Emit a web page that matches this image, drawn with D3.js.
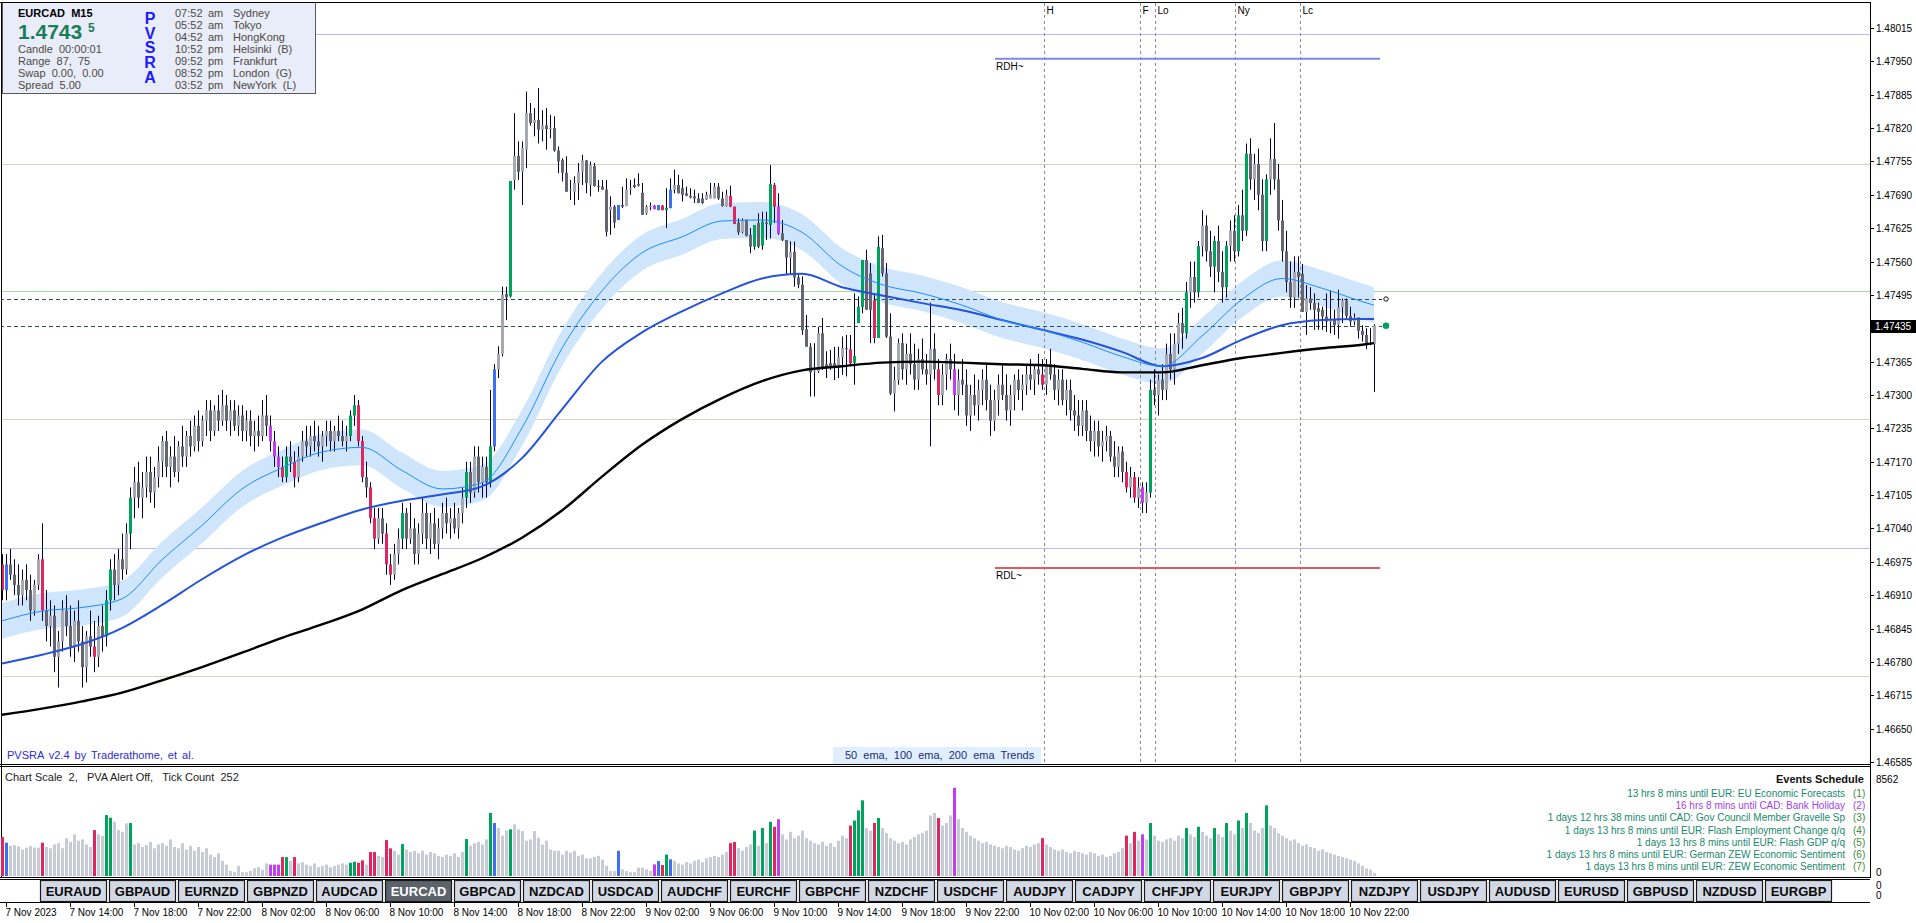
<!DOCTYPE html>
<html><head><meta charset="utf-8">
<script src="https://cdn.jsdelivr.net/npm/d3@7"></script>
<style>
body{margin:0;background:#fff;overflow:hidden}
svg{display:block}
text{font-family:"Liberation Sans",Arial,sans-serif;white-space:pre}
</style></head><body>
<script>
// ---------------- DATA ----------------
const open=[1.4697,1.4692,1.4697,1.4695,1.4693,1.4691,1.4694,1.4692,1.4688,1.4693,
1.4698,1.4688,1.4685,1.4687,1.4679,1.4682,1.4688,1.4685,1.4681,1.4686,
1.4682,1.4677,1.4683,1.4681,1.4679,1.4685,1.4683,1.4690,1.4696,1.4693,
1.4698,1.4696,1.4703,1.4710,1.4713,1.4710,1.4712,1.4715,1.4711,1.4714,
1.4717,1.4721,1.4716,1.4718,1.4715,1.4720,1.4718,1.4722,1.4720,1.4724,
1.4721,1.4725,1.4727,1.4723,1.4727,1.4725,1.4728,1.4725,1.4727,1.4724,
1.4726,1.4723,1.4725,1.4722,1.4723,1.4722,1.4726,1.4724,1.4721,1.4718,
1.4716,1.4714,1.4718,1.4717,1.4714,1.4718,1.4721,1.4720,1.4722,1.4721,
1.4720,1.4722,1.4723,1.4721,1.4723,1.4722,1.4721,1.4722,1.4726,1.4728,
1.4721,1.4714,1.4712,1.4706,1.4702,1.4706,1.4703,1.4697,1.4695,1.4699,
1.4702,1.4707,1.4702,1.4704,1.4699,1.4703,1.4707,1.4702,1.4705,1.4701,
1.4704,1.4707,1.4705,1.4706,1.4704,1.4707,1.4710,1.4715,1.4711,1.4718,
1.4713,1.4716,1.4713,1.4720,1.4735,1.4738,1.47497,1.47492,1.47719,1.47766,
1.47735,1.47778,1.47849,1.47830,1.47836,1.47817,1.47825,1.47818,1.47820,1.47776,
1.47758,1.47733,1.47698,1.47696,1.47713,1.47735,1.47757,1.47709,1.47746,1.47707,
1.47706,1.47700,1.47660,1.47667,1.47641,1.47670,1.47668,1.47700,1.47709,1.47711,
1.47694,1.47654,1.47667,1.47669,1.47660,1.47669,1.47660,1.47664,1.47700,1.47709,
1.47703,1.47693,1.47688,1.47687,1.47683,1.47683,1.47681,1.47683,1.47683,1.47706,
1.47683,1.47668,1.47688,1.47667,1.47636,1.47617,1.47641,1.47612,1.47589,1.47635,
1.47591,1.47636,1.47631,1.47709,1.47667,1.47615,1.47602,1.47567,1.47579,1.47529,
1.47515,1.47428,1.47394,1.47344,1.47346,1.47420,1.47360,1.47362,1.47362,1.47354,
1.47374,1.47391,1.47389,1.47363,1.47440,1.47471,1.47563,1.47537,1.47485,1.47411,
1.47586,1.47537,1.47414,1.47303,1.47329,1.47401,1.47350,1.47380,1.47360,1.47330,
1.47370,1.47350,1.47340,1.47390,1.47350,1.47300,1.47340,1.47370,1.47350,1.47300,
1.47330,1.47320,1.47260,1.47300,1.47280,1.47310,1.47330,1.47290,1.47250,1.47290,
1.47320,1.47300,1.47270,1.47300,1.47330,1.47310,1.47320,1.47340,1.47330,1.47350,
1.47340,1.47320,1.47360,1.47340,1.47310,1.47330,1.47290,1.47310,1.47270,1.47260,
1.47240,1.47270,1.47230,1.47210,1.47230,1.47200,1.47210,1.47220,1.47180,1.47160,
1.47190,1.47150,1.47120,1.47140,1.47100,1.47120,1.47090,1.47110,1.47310,1.47300,
1.47330,1.47310,1.47380,1.47350,1.47400,1.47440,1.47420,1.47500,1.47530,1.47500,
1.47590,1.47630,1.47580,1.47550,1.47600,1.47540,1.47510,1.47590,1.47620,1.47580,
1.47650,1.47620,1.47770,1.47720,1.47750,1.47690,1.47600,1.47720,1.47760,1.47720,
1.47640,1.47580,1.47520,1.47490,1.47540,1.47536,1.47462,1.47488,1.47479,1.47469,
1.47466,1.47453,1.47443,1.47447,1.47437,1.47471,1.47484,1.47454,1.47443,1.47451,
1.47425,1.47417,1.47401,1.47399];
const high=[1.4699,1.4699,1.4700,1.4698,1.4697,1.4696,1.4697,1.4695,1.4694,1.4699,
1.4705,1.4692,1.4690,1.4689,1.4684,1.4690,1.4691,1.4689,1.4688,1.4690,
1.4685,1.4684,1.4688,1.4686,1.4687,1.4689,1.4692,1.4698,1.4699,1.4700,
1.4703,1.4705,1.4712,1.4716,1.4717,1.4715,1.4718,1.4718,1.4716,1.4720,
1.4722,1.4723,1.4720,1.4722,1.4721,1.4724,1.4723,1.4725,1.4726,1.4727,
1.4726,1.4729,1.4729,1.4728,1.4730,1.4731,1.4730,1.4729,1.4729,1.4728,
1.4728,1.4727,1.4727,1.4725,1.4726,1.4729,1.4730,1.4726,1.4723,1.4720,
1.4718,1.4720,1.4721,1.4719,1.4720,1.4723,1.4724,1.4724,1.4725,1.4724,
1.4723,1.4725,1.4725,1.4724,1.4726,1.4725,1.4724,1.4727,1.4730,1.4729,
1.4722,1.4717,1.4713,1.4708,1.4708,1.4708,1.4705,1.4699,1.4701,1.4704,
1.4709,1.4708,1.4709,1.4706,1.4705,1.4710,1.4709,1.4707,1.4708,1.4706,
1.4709,1.4710,1.4708,1.4709,1.4708,1.4712,1.4717,1.4717,1.4720,1.4720,
1.4718,1.4718,1.4731,1.4736,1.47395,1.47511,1.47511,1.47717,1.47849,1.47794,
1.47794,1.47891,1.47869,1.47859,1.47898,1.47855,1.47859,1.47846,1.47843,1.47784,
1.47761,1.47765,1.47719,1.47726,1.47752,1.47768,1.47758,1.47755,1.47752,1.47719,
1.47719,1.47719,1.47687,1.47670,1.47670,1.47706,1.47722,1.47719,1.47722,1.47732,
1.47713,1.47670,1.47675,1.47670,1.47670,1.47670,1.47703,1.47722,1.47739,1.47729,
1.47720,1.47706,1.47703,1.47700,1.47693,1.47693,1.47696,1.47713,1.47713,1.47713,
1.47696,1.47700,1.47708,1.47667,1.47644,1.47644,1.47642,1.47625,1.47631,1.47654,
1.47657,1.47657,1.47748,1.47713,1.47693,1.47641,1.47602,1.47599,1.47599,1.47534,
1.47531,1.47456,1.47401,1.47401,1.47433,1.47450,1.47385,1.47388,1.47394,1.47394,
1.47414,1.47417,1.47417,1.47498,1.47492,1.47563,1.47583,1.47557,1.47498,1.47609,
1.47612,1.47557,1.47459,1.47355,1.47410,1.47420,1.47400,1.47420,1.47400,1.47390,
1.47410,1.47380,1.47480,1.47420,1.47370,1.47360,1.47380,1.47400,1.47380,1.47350,
1.47370,1.47350,1.47320,1.47340,1.47330,1.47350,1.47360,1.47320,1.47310,1.47340,
1.47360,1.47340,1.47320,1.47340,1.47350,1.47340,1.47360,1.47370,1.47360,1.47380,
1.47370,1.47370,1.47390,1.47360,1.47350,1.47350,1.47330,1.47330,1.47300,1.47290,
1.47290,1.47290,1.47260,1.47250,1.47250,1.47230,1.47240,1.47230,1.47210,1.47200,
1.47200,1.47170,1.47160,1.47150,1.47140,1.47130,1.47130,1.47330,1.47350,1.47340,
1.47360,1.47400,1.47420,1.47420,1.47460,1.47470,1.47520,1.47560,1.47560,1.47600,
1.47660,1.47650,1.47620,1.47610,1.47630,1.47580,1.47600,1.47640,1.47650,1.47670,
1.47700,1.47790,1.47800,1.47770,1.47780,1.47720,1.47730,1.47800,1.47830,1.47750,
1.47680,1.47620,1.47560,1.47570,1.47570,1.47555,1.47514,1.47510,1.47498,1.47480,
1.47472,1.47498,1.47503,1.47466,1.47505,1.47488,1.47488,1.47472,1.47459,1.47451,
1.47436,1.47430,1.47430,1.47438];
const low=[1.4690,1.4690,1.4694,1.4691,1.4689,1.4689,1.4690,1.4686,1.4687,1.4692,
1.4686,1.4682,1.4681,1.4676,1.4673,1.4680,1.4683,1.4679,1.4678,1.4680,
1.4673,1.4674,1.4679,1.4676,1.4677,1.4680,1.4681,1.4688,1.4690,1.4691,
1.4694,1.4695,1.4700,1.4706,1.4708,1.4706,1.4710,1.4709,1.4708,1.4712,
1.4714,1.4714,1.4712,1.4714,1.4713,1.4716,1.4716,1.4718,1.4719,1.4719,
1.4720,1.4722,1.4721,1.4722,1.4723,1.4724,1.4723,1.4722,1.4723,1.4722,
1.4721,1.4721,1.4720,1.4719,1.4720,1.4721,1.4722,1.4719,1.4716,1.4714,
1.4713,1.4713,1.4715,1.4712,1.4713,1.4717,1.4718,1.4718,1.4719,1.4718,
1.4717,1.4720,1.4719,1.4719,1.4721,1.4720,1.4719,1.4721,1.4724,1.4720,
1.4713,1.4710,1.4705,1.4700,1.4701,1.4701,1.4695,1.4693,1.4694,1.4697,
1.4700,1.4700,1.4701,1.4697,1.4697,1.4701,1.4700,1.4699,1.4700,1.4698,
1.4702,1.4703,1.4702,1.4703,1.4702,1.4705,1.4708,1.4709,1.4710,1.4711,
1.4710,1.4710,1.4712,1.4719,1.47333,1.47375,1.47446,1.4749,1.47700,1.47719,
1.47670,1.47742,1.47825,1.47804,1.47790,1.47794,1.47778,1.47800,1.47774,1.47732,
1.47716,1.47696,1.47680,1.47670,1.47680,1.47709,1.47693,1.47687,1.47706,1.47696,
1.47700,1.47609,1.47612,1.47625,1.47641,1.47664,1.47668,1.47690,1.47703,1.47706,
1.47651,1.47651,1.47660,1.47662,1.47660,1.47660,1.47625,1.47664,1.47693,1.47693,
1.47677,1.47687,1.47683,1.47674,1.47674,1.47672,1.47680,1.47683,1.47683,1.47680,
1.47667,1.47667,1.47666,1.47633,1.47612,1.47615,1.47609,1.47576,1.47583,1.47586,
1.47583,1.47602,1.47605,1.47635,1.47612,1.47600,1.47534,1.47537,1.47511,1.47508,
1.47417,1.47394,1.47297,1.47297,1.47343,1.47349,1.47333,1.47349,1.47329,1.47333,
1.47339,1.47336,1.47356,1.47320,1.47440,1.47459,1.47466,1.47401,1.47401,1.47411,
1.47531,1.47411,1.47300,1.47268,1.47320,1.47330,1.47320,1.47340,1.47310,1.47310,
1.47340,1.47320,1.47200,1.47330,1.47280,1.47280,1.47310,1.47330,1.47270,1.47260,
1.47300,1.47240,1.47230,1.47260,1.47250,1.47280,1.47270,1.47220,1.47230,1.47260,
1.47290,1.47250,1.47240,1.47270,1.47290,1.47270,1.47300,1.47310,1.47300,1.47320,
1.47310,1.47300,1.47330,1.47290,1.47280,1.47280,1.47260,1.47250,1.47230,1.47220,
1.47220,1.47210,1.47190,1.47180,1.47180,1.47170,1.47190,1.47170,1.47140,1.47140,
1.47130,1.47110,1.47100,1.47090,1.47080,1.47070,1.47070,1.47100,1.47280,1.47260,
1.47290,1.47290,1.47330,1.47320,1.47380,1.47390,1.47410,1.47470,1.47480,1.47490,
1.47570,1.47560,1.47530,1.47500,1.47520,1.47480,1.47490,1.47560,1.47560,1.47570,
1.47600,1.47610,1.47700,1.47680,1.47660,1.47580,1.47580,1.47690,1.47700,1.47620,
1.47560,1.47500,1.47470,1.47470,1.47490,1.47462,1.47417,1.47466,1.47427,1.47427,
1.47427,1.47423,1.47420,1.47417,1.47410,1.47440,1.47449,1.47433,1.47436,1.47410,
1.47404,1.47389,1.47397,1.47306];
const close=[1.4692,1.4697,1.4695,1.4693,1.4691,1.4694,1.4692,1.4688,1.4693,1.4698,
1.4688,1.4685,1.4687,1.4679,1.4682,1.4688,1.4685,1.4681,1.4686,1.4682,
1.4677,1.4683,1.4681,1.4679,1.4685,1.4683,1.4690,1.4696,1.4693,1.4698,
1.4696,1.4703,1.4710,1.4713,1.4710,1.4712,1.4715,1.4711,1.4714,1.4717,
1.4721,1.4716,1.4718,1.4715,1.4720,1.4718,1.4722,1.4720,1.4724,1.4721,
1.4725,1.4727,1.4723,1.4727,1.4725,1.4728,1.4725,1.4727,1.4724,1.4726,
1.4723,1.4725,1.4722,1.4723,1.4722,1.4726,1.4724,1.4721,1.4718,1.4716,
1.4714,1.4718,1.4717,1.4714,1.4718,1.4721,1.4720,1.4722,1.4721,1.4720,
1.4722,1.4723,1.4721,1.4723,1.4722,1.4721,1.4722,1.4726,1.4728,1.4721,
1.4714,1.4712,1.4706,1.4702,1.4706,1.4703,1.4697,1.4695,1.4699,1.4702,
1.4707,1.4702,1.4704,1.4699,1.4703,1.4707,1.4702,1.4705,1.4701,1.4704,
1.4707,1.4705,1.4706,1.4704,1.4707,1.4710,1.4715,1.4711,1.4718,1.4713,
1.4716,1.4713,1.4720,1.4735,1.4738,1.47495,1.4749,1.47717,1.47765,1.47735,
1.47781,1.47849,1.47830,1.47836,1.47817,1.47825,1.47818,1.47820,1.47776,1.47755,
1.47733,1.47696,1.47700,1.47713,1.47735,1.47757,1.47713,1.47748,1.47707,1.47706,
1.47700,1.47618,1.47667,1.47636,1.47670,1.47667,1.47700,1.47703,1.47705,1.47708,
1.47651,1.47667,1.47668,1.47662,1.47670,1.47660,1.47665,1.47700,1.47709,1.47693,
1.47690,1.47688,1.47685,1.47683,1.47674,1.47674,1.47690,1.47690,1.47706,1.47683,
1.47668,1.47690,1.47667,1.47633,1.47617,1.47641,1.47610,1.47589,1.47631,1.47589,
1.47638,1.47633,1.47711,1.47667,1.47614,1.47602,1.47568,1.47579,1.47529,1.47515,
1.47426,1.47394,1.47344,1.47346,1.47420,1.47352,1.47354,1.47354,1.47354,1.47374,
1.47391,1.47389,1.47362,1.47376,1.47472,1.47563,1.47466,1.47466,1.47411,1.47589,
1.47537,1.47414,1.47303,1.47329,1.47401,1.47350,1.47380,1.47360,1.47330,1.47370,
1.47350,1.47340,1.47390,1.47350,1.47300,1.47340,1.47370,1.47350,1.47300,1.47330,
1.47320,1.47260,1.47300,1.47280,1.47310,1.47330,1.47290,1.47250,1.47290,1.47320,
1.47300,1.47270,1.47300,1.47330,1.47310,1.47320,1.47340,1.47330,1.47350,1.47340,
1.47320,1.47360,1.47340,1.47310,1.47330,1.47290,1.47310,1.47270,1.47260,1.47240,
1.47270,1.47230,1.47210,1.47230,1.47200,1.47210,1.47220,1.47180,1.47160,1.47190,
1.47150,1.47120,1.47140,1.47100,1.47120,1.47090,1.47110,1.47310,1.47300,1.47330,
1.47310,1.47380,1.47350,1.47400,1.47440,1.47420,1.47500,1.47530,1.47500,1.47590,
1.47630,1.47580,1.47550,1.47600,1.47540,1.47510,1.47590,1.47620,1.47580,1.47650,
1.47620,1.47770,1.47720,1.47750,1.47690,1.47600,1.47720,1.47760,1.47720,1.47640,
1.47580,1.47520,1.47490,1.47540,1.47530,1.47462,1.47488,1.47479,1.47466,1.47462,
1.47453,1.47443,1.47447,1.47436,1.47471,1.47484,1.47454,1.47443,1.47451,1.47425,
1.47417,1.47399,1.47399,1.47435];
const volume=[3090,2640,2400,2450,2350,2100,2250,2380,2250,2250,
2640,2300,2200,2500,2600,2200,3000,2700,3300,2800,
2900,2500,2300,3640,3300,3170,4830,4620,4300,3640,
3510,4170,4200,2500,2600,2300,2450,2700,2200,2500,
2600,2400,2900,2300,2200,2600,2100,2400,2000,2300,
1900,2200,1700,1500,1800,1200,900,400,300,800,
300,300,400,600,700,500,1000,900,900,900,
1500,1500,1200,1500,1000,1100,900,800,1000,700,
800,900,700,800,900,1000,900,1050,1130,1050,
1240,900,1900,1900,1600,1500,2850,2190,2000,1700,
2530,2100,1900,2000,1800,2000,1700,1900,1800,1600,
1500,1700,1600,1800,1500,1900,2930,2400,2600,2700,
2500,2900,5000,4200,3800,3200,3600,3700,4100,3700,
3560,2800,2900,3560,3040,2500,2800,2100,2000,2000,
1700,2000,1850,2000,1600,1700,1400,1400,1500,1600,
1300,800,400,400,2000,530,400,300,300,660,
660,530,400,920,1190,870,1700,1320,1200,1000,
900,1100,1000,1200,1300,1100,1400,1500,1600,1500,
1700,1900,2600,2700,2200,2000,2300,2500,3600,2400,
3800,2600,4300,3900,4500,3300,2900,3500,3000,3200,
3600,3000,2800,2600,2500,2700,2400,2600,2300,2800,
3200,3000,4000,4400,5200,6000,3800,3600,4200,4600,
3800,3400,3000,2800,2600,2700,2500,2900,3100,3300,
3400,3600,4800,5000,4600,4000,4200,4800,7000,4500,
3800,3500,3200,3000,2800,2600,2700,2500,2400,2300,
2200,2400,2300,2100,2000,2200,2400,2300,2500,2600,
3000,2500,2300,2100,2000,2100,1900,1800,2000,1900,
1800,1700,1900,1800,1600,1700,1500,1600,1800,1900,
2200,3200,2600,3500,2800,3300,2900,4200,3200,2800,
2700,2900,3000,2800,3200,3000,3800,3300,3100,3900,
3500,3200,3000,3800,3300,3100,4200,3600,3300,4400,
3800,5000,4200,3600,3400,3800,5600,4000,3800,3400,
3200,3000,2800,2900,2600,2400,2500,2300,2200,2000,
2100,1900,1800,1700,1600,1500,1400,1300,1200,1000,
800,600,500,252];
// PVSRA candle classes (bar indices)
const climaxBars=[0,10,23,26,27,32,70,71,73,87,88,89,90,92,93,96,97,100,116,122,127,165,166,182,183,188,190,192,193,212,213,214,215,218,219,234,260,281,283,287,296,299,303,306,309,311,316];
const risingBars=[1,67,68,69,123,154,163,164,167,194,238,285];
// moving averages (bar index -> price)
const emaBars=[0,10,20,30,40,50,60,70,80,90,100,110,120,130,140,150,160,170,180,190,200,210,220,230,240,250,260,270,280,290,300,310,320,330,340,343];
const ema50=[1.46860,1.46879,1.46886,1.46903,1.46979,1.47046,1.47117,1.47158,1.47189,1.47198,1.47153,1.47117,1.47129,1.47236,1.47391,1.47503,1.47577,1.47608,1.47639,1.47641,1.47617,1.47551,1.47515,1.47498,1.47475,1.47446,1.47427,1.47403,1.47375,1.47356,1.47415,1.47486,1.47527,1.47508,1.47482,1.47475];
const ema100=[1.46777,1.46794,1.46815,1.46846,1.46891,1.46941,1.46986,1.47022,1.47051,1.47077,1.47094,1.47106,1.47122,1.47177,1.47272,1.47365,1.47422,1.47463,1.47498,1.47527,1.47536,1.47510,1.47494,1.47479,1.47465,1.47446,1.47427,1.47408,1.47384,1.47356,1.47372,1.47408,1.47436,1.47446,1.47448,1.47448];
const ema200=[1.46677,1.46689,1.46703,1.46720,1.46744,1.46770,1.46798,1.46827,1.46853,1.46882,1.46920,1.46951,1.46982,1.47022,1.47075,1.47141,1.47203,1.47253,1.47294,1.47327,1.47348,1.47356,1.47363,1.47365,1.47363,1.47360,1.47358,1.47351,1.47344,1.47344,1.47358,1.47372,1.47382,1.47391,1.47398,1.47401];
const bandHalf=0.00035;
// levels
const levelPrices=[1.48003,1.47751,1.47503,1.47253,1.47002,1.46752];
const dashedPrices=[1.47487,1.47435];
const rdh=1.47955, rdl=1.46963;
const sessionNames=["H","F","Lo","Ny","Lc"];
const sessionBars=[260.5,284.5,288.25,308.25,324.5];
const bid=1.47435;
// axis labels
const priceTicks=["1.48015","1.47950","1.47885","1.47820","1.47755","1.47690","1.47625","1.47560","1.47495","1.47365","1.47300","1.47235","1.47170","1.47105","1.47040","1.46975","1.46910","1.46845","1.46780","1.46715","1.46650","1.46585"];
const timeLabels=["7 Nov 2023","7 Nov 14:00","7 Nov 18:00","7 Nov 22:00","8 Nov 02:00","8 Nov 06:00","8 Nov 10:00","8 Nov 14:00","8 Nov 18:00","8 Nov 22:00","9 Nov 02:00","9 Nov 06:00","9 Nov 10:00","9 Nov 14:00","9 Nov 18:00","9 Nov 22:00","10 Nov 02:00","10 Nov 06:00","10 Nov 10:00","10 Nov 14:00","10 Nov 18:00","10 Nov 22:00"];
const timeBars=timeLabels.map((d,k)=>1+16*k);
const symbols=["EURAUD","GBPAUD","EURNZD","GBPNZD","AUDCAD","EURCAD","GBPCAD","NZDCAD","USDCAD","AUDCHF","EURCHF","GBPCHF","NZDCHF","USDCHF","AUDJPY","CADJPY","CHFJPY","EURJPY","GBPJPY","NZDJPY","USDJPY","AUDUSD","EURUSD","GBPUSD","NZDUSD","EURGBP"];
const cities=["Sydney","Tokyo","HongKong","Helsinki  (B)","Frankfurt","London  (G)","NewYork  (L)"];
const cityTimes=["07:52","05:52","04:52","10:52","09:52","08:52","03:52"];
const cityAmPm=["am","am","am","pm","pm","pm","pm"];
const infoLines=["Candle  00:00:01","Range  87,  75","Swap  0.00,  0.00","Spread  5.00"];
const events=["13 hrs 8 mins until EUR: EU Economic Forecasts","16 hrs 8 mins until CAD: Bank Holiday","1 days 12 hrs 38 mins until CAD: Gov Council Member Gravelle Sp","1 days 13 hrs 8 mins until EUR: Flash Employment Change q/q","1 days 13 hrs 8 mins until EUR: Flash GDP q/q","1 days 13 hrs 8 mins until EUR: German ZEW Economic Sentiment","1 days 13 hrs 8 mins until EUR: ZEW Economic Sentiment"];
const eventHoliday=[false,true,false,false,false,false,false];
const volMax=8562;

// ---------------- DRAWING ----------------
const svg=d3.select("body").append("svg").attr("width",1916).attr("height",923);
svg.append("rect").attr("width",1916).attr("height",923).attr("fill","#fff");
const AXX=1870;
const x=d3.scaleLinear().domain([0,343]).range([2,1374]);
const y=d3.scaleLinear().domain([1.46585,1.48015]).range([762,28]);
const yv=d3.scaleLinear().domain([0,volMax]).range([876,768]);
const defs=svg.append("defs");
defs.append("clipPath").attr("id","mainclip").append("rect").attr("x",2).attr("y",3).attr("width",AXX-2).attr("height",761);
const main=svg.append("g").attr("clip-path","url(#mainclip)");
const R=v=>Math.round(v);

// horizontal level lines
const levelColors=["#b9b9f5","#d9d3bf","#9fd9a6","#d9d3bf","#b9b9f5","#d9d3bf"];
levelPrices.forEach((p,k)=>main.append("line").attr("x1",0).attr("x2",AXX).attr("y1",R(y(p))+0.5).attr("y2",R(y(p))+0.5).attr("stroke",levelColors[k]).attr("stroke-width",1));

// 50 ema band
const emaPts=emaBars.map((b,k)=>({b,v50:ema50[k],v100:ema100[k],v200:ema200[k]}));
main.append("path").datum(emaPts).attr("fill","#cfe5fb")
 .attr("d",d3.area().x(d=>x(d.b)).y0(d=>y(d.v50-bandHalf)).y1(d=>y(d.v50+bandHalf)).curve(d3.curveMonotoneX));

// session lines
sessionBars.forEach((b,k)=>{
 const sx=R(x(b))+0.5;
 main.append("line").attr("x1",sx).attr("x2",sx).attr("y1",3).attr("y2",764).attr("stroke","#8c8c8c").attr("stroke-dasharray","3,3");
 svg.append("text").attr("x",sx+2).attr("y",14).attr("font-size",10).attr("fill","#000").text(sessionNames[k]);
});
// RDH / RDL
const rx1=x(248.25), rx2=x(344.5);
main.append("line").attr("x1",rx1).attr("x2",rx2).attr("y1",y(rdh)).attr("y2",y(rdh)).attr("stroke","#7f86ef").attr("stroke-width",2);
main.append("line").attr("x1",rx1).attr("x2",rx2).attr("y1",y(rdl)).attr("y2",y(rdl)).attr("stroke","#e25a5a").attr("stroke-width",2);
svg.append("text").attr("x",rx1+1).attr("y",y(rdh)+11).attr("font-size",10).text("RDH~");
svg.append("text").attr("x",rx1+1).attr("y",y(rdl)+11).attr("font-size",10).text("RDL~");

// dashed price lines
dashedPrices.forEach(p=>main.append("line").attr("x1",0).attr("x2",x(343)+8).attr("y1",R(y(p))+0.5).attr("y2",R(y(p))+0.5).attr("stroke","#2f4f4f").attr("stroke-dasharray","4,3"));

// candles
function kind(i){return climaxBars.includes(i)?"C":(risingBars.includes(i)?"A":"N");}
function colr(i,vol){const bull=close[i]>=open[i],k=kind(i);
 if(k==="C")return bull?"#00a35c":"#e0265e";
 if(k==="A")return bull?"#3d6ff2":"#c43cf2";
 return vol?"#c7cbd6":(bull?"#a8a8b1":"#65656f");}
const cg=main.append("g");
d3.range(open.length).forEach(i=>{
 const cx=R(x(i));
 cg.append("line").attr("x1",cx+0.5).attr("x2",cx+0.5).attr("y1",y(high[i])).attr("y2",y(low[i])).attr("stroke","#02023a").attr("stroke-width",1);
 const t=y(Math.max(open[i],close[i])), b=y(Math.min(open[i],close[i]));
 cg.append("rect").attr("x",cx-1).attr("width",3).attr("y",t).attr("height",Math.max(1,b-t)).attr("fill",colr(i,false));
});

// ema lines
const ln=k=>d3.line().x(d=>x(d.b)).y(d=>y(d[k])).curve(d3.curveMonotoneX);
main.append("path").datum(emaPts).attr("fill","none").attr("stroke","#000").attr("stroke-width",2.4).attr("d",ln("v200"));
main.append("path").datum(emaPts).attr("fill","none").attr("stroke","#2552dc").attr("stroke-width",2).attr("d",ln("v100"));
main.append("path").datum(emaPts).attr("fill","none").attr("stroke","#1e8cff").attr("stroke-width",1).attr("d",ln("v50"));

// right-end markers
const mx=x(343)+12;
svg.append("line").attr("x1",mx-7).attr("x2",mx-4).attr("y1",R(y(dashedPrices[0]))+0.5).attr("y2",R(y(dashedPrices[0]))+0.5).attr("stroke","#222");
svg.append("circle").attr("cx",mx).attr("cy",y(dashedPrices[0])).attr("r",2.2).attr("fill","#fff").attr("stroke","#111");
svg.append("circle").attr("cx",mx).attr("cy",y(bid)).attr("r",3.3).attr("fill","#00a060");

// bottom texts of main window
svg.append("text").attr("x",7).attr("y",759).attr("font-size",11).attr("fill","#2a2ae0").attr("word-spacing",2).text("PVSRA v2.4 by Traderathome, et al.");
svg.append("rect").attr("x",833).attr("y",747).attr("width",208).attr("height",17).attr("fill","#e0efff");
svg.append("text").attr("x",845).attr("y",759).attr("font-size",11).attr("fill","#1c2c78").attr("word-spacing",3).text("50 ema, 100 ema, 200 ema Trends");

// info box
svg.append("rect").attr("x",2.5).attr("y",2.5).attr("width",313).attr("height",91).attr("fill","#e9edf9").attr("stroke","#5a5a5a");
svg.append("text").attr("x",18).attr("y",17).attr("font-size",11).attr("font-weight","bold").attr("fill","#000").text("EURCAD  M15");
svg.append("text").attr("x",18).attr("y",39).attr("font-size",21).attr("font-weight","bold").attr("fill","#1a7e58").text(String(bid).slice(0,6));
svg.append("text").attr("x",88).attr("y",32).attr("font-size",12).attr("font-weight","bold").attr("fill","#1a7e58").text(String(bid).slice(6));
infoLines.forEach((s,k)=>svg.append("text").attr("x",18).attr("y",53+k*12).attr("font-size",11).attr("fill","#4e4a44").text(s));
"PVSRA".split("").forEach((c,k)=>svg.append("text").attr("x",150).attr("y",24+k*14.7).attr("text-anchor","middle").attr("font-size",16).attr("font-weight","bold").attr("fill","#1a1aff").text(c));
cities.forEach((c,k)=>{
 const by=17+k*12;
 svg.append("text").attr("x",175).attr("y",by).attr("font-size",11).attr("fill","#4e4a44").text(cityTimes[k]);
 svg.append("text").attr("x",208).attr("y",by).attr("font-size",11).attr("fill","#4e4a44").text(cityAmPm[k]);
 svg.append("text").attr("x",233).attr("y",by).attr("font-size",11).attr("fill","#4e4a44").text(c);
});

// frames
svg.append("line").attr("x1",0).attr("x2",AXX).attr("y1",2.5).attr("y2",2.5).attr("stroke","#000");
svg.append("line").attr("x1",1.5).attr("x2",1.5).attr("y1",2).attr("y2",877).attr("stroke","#000");
svg.append("line").attr("x1",0).attr("x2",AXX).attr("y1",764.5).attr("y2",764.5).attr("stroke","#000");
svg.append("line").attr("x1",0).attr("x2",AXX).attr("y1",766.5).attr("y2",766.5).attr("stroke","#000");
svg.append("line").attr("x1",AXX+0.5).attr("x2",AXX+0.5).attr("y1",2).attr("y2",878).attr("stroke","#000");

// price axis
priceTicks.forEach(s=>{const py=R(y(+s))+0.5;
 svg.append("line").attr("x1",AXX).attr("x2",AXX+4).attr("y1",py).attr("y2",py).attr("stroke","#000");
 svg.append("text").attr("x",AXX+6).attr("y",py+3.5).attr("font-size",10).attr("fill","#000").text(s);
});
const by=R(y(bid));
svg.append("rect").attr("x",AXX+1).attr("y",by-6).attr("width",45).attr("height",13).attr("fill","#000");
svg.append("text").attr("x",AXX+5).attr("y",by+4).attr("font-size",10).attr("fill","#fff").text(bid.toFixed(5));

// volume sub-window
const vg=svg.append("g");
volume.forEach((v,i)=>{const cx=R(x(i));
 vg.append("rect").attr("x",cx-1).attr("width",3).attr("y",yv(v)).attr("height",yv(0)-yv(v)).attr("fill",colr(i,true));});
svg.append("text").attr("x",5).attr("y",781).attr("font-size",11).attr("fill","#222").text("Chart Scale  2,   PVA Alert Off,   Tick Count  "+volume[volume.length-1]);
svg.append("text").attr("x",AXX+6).attr("y",783).attr("font-size",10).text(String(volMax));
svg.append("text").attr("x",AXX+6).attr("y",876).attr("font-size",10).text("0");
svg.append("text").attr("x",AXX+6).attr("y",889).attr("font-size",10).text("0");
svg.append("text").attr("x",AXX+6).attr("y",899).attr("font-size",10).text("0");
svg.append("text").attr("x",1864).attr("y",783).attr("text-anchor","end").attr("font-size",11).attr("font-weight","bold").attr("fill","#111").text("Events Schedule");
events.forEach((e,k)=>{const ey=797+k*12.2;const col=eventHoliday[k]?"#a23ef0":"#18896c";
 svg.append("text").attr("x",1845).attr("y",ey).attr("text-anchor","end").attr("font-size",10).attr("fill",col).text(e);
 svg.append("text").attr("x",1853).attr("y",ey).attr("font-size",10).attr("fill",eventHoliday[k]?"#a23ef0":"#3b8a3b").text("("+(k+1)+")");
});

// button row
svg.append("line").attr("x1",0).attr("x2",AXX).attr("y1",877.5).attr("y2",877.5).attr("stroke","#000");
svg.append("line").attr("x1",0).attr("x2",AXX).attr("y1",879.5).attr("y2",879.5).attr("stroke","#000");
svg.append("line").attr("x1",0).attr("x2",AXX).attr("y1",902.5).attr("y2",902.5).attr("stroke","#000");
symbols.forEach((s,k)=>{const bx=40+69*k, sel=s==="EURCAD";
 svg.append("rect").attr("x",bx+0.5).attr("y",880.5).attr("width",66).attr("height",21).attr("fill",sel?"#5d636b":"#d3d9e4").attr("stroke","#1a1a1a").attr("stroke-width",1.2);
 svg.append("text").attr("x",bx+33.5).attr("y",896).attr("text-anchor","middle").attr("font-size",13).attr("font-weight","bold").attr("fill",sel?"#fff":"#0a0a0a").text(s);
});

// time axis
timeBars.forEach((b,k)=>{const tx=R(x(b))+0.5;
 svg.append("line").attr("x1",tx).attr("x2",tx).attr("y1",903).attr("y2",907).attr("stroke","#000");
 svg.append("text").attr("x",Math.max(0,tx-1)).attr("y",916).attr("font-size",10).attr("fill","#000").text(timeLabels[k]);
});
</script>
</body></html>
